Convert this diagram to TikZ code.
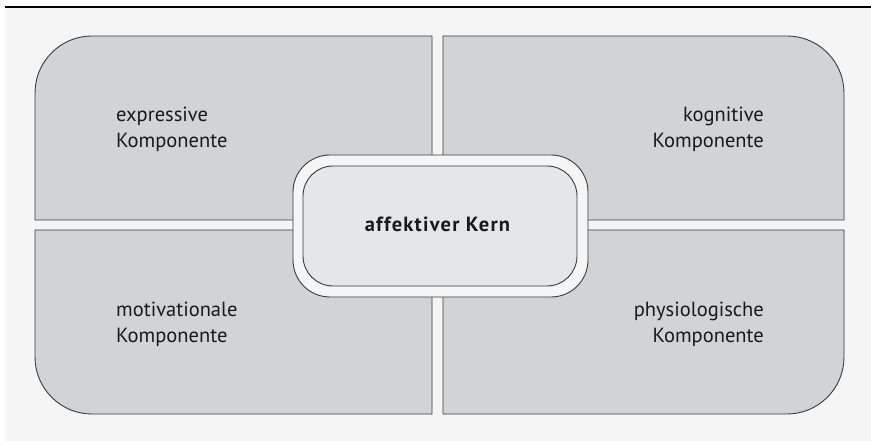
\documentclass[tikz,border=0pt]{standalone}
\usepackage{fontspec}
\setmainfont{PT Sans}
\begin{document}
\begin{tikzpicture}[x=1pt,y=-1pt,
  quad/.style={fill=quadfill,draw=edge,line width=0.9pt},
  lbl/.style={inner sep=0pt,font={\fontsize{20.5}{26}\selectfont},text=black!90},
]
\definecolor{bgc}{HTML}{F5F5F5}
\definecolor{quadfill}{HTML}{D2D3D5}
\definecolor{corefill}{HTML}{E5E6E8}
\definecolor{edge}{HTML}{3A3A3A}
\useasboundingbox (0,0) rectangle (871,441);
\fill[bgc] (5,7) rectangle (871,441);
\draw[line width=1.3pt] (5,7) -- (871,7);
% quadrants
\draw[quad] (35,220) -- (35,93) arc[start angle=180,end angle=90,radius=57pt] -- (432,36) -- (432,220) -- cycle;
\draw[quad] (443,220) -- (443,36) -- (787,36) arc[start angle=90,end angle=0,radius=57pt] -- (844,220) -- cycle;
\draw[quad] (432,230) -- (432,414) -- (92,414) arc[start angle=-90,end angle=-180,radius=57pt] -- (35,230) -- cycle;
\draw[quad] (443,230) -- (443,414) -- (787,414) arc[start angle=-90,end angle=0,radius=57pt] -- (844,230) -- cycle;
% core
\draw[fill=bgc,draw=edge,line width=0.9pt,rounded corners=37pt] (293,155) rectangle (588,297);
\draw[fill=corefill,draw=edge,line width=0.9pt,rounded corners=30pt] (303,166) rectangle (577,286);
\node[lbl,font={\fontsize{20.5}{26}\selectfont\bfseries\addfontfeatures{LetterSpace=6}},anchor=base] (kern) at (437.5,232) {affektiver Kern};
\node[lbl,align=left,anchor=base west] (expr) at (116,148) {expressive\\Komponente};
\node[lbl,align=right,anchor=base east] (kogn) at (764,148) {kognitive\\Komponente};
\node[lbl,align=left,anchor=base west] (moti) at (116,342) {motivationale\\Komponente};
\node[lbl,align=right,anchor=base east] (phys) at (764,342) {physiologische\\Komponente};
\end{tikzpicture}
\end{document}
